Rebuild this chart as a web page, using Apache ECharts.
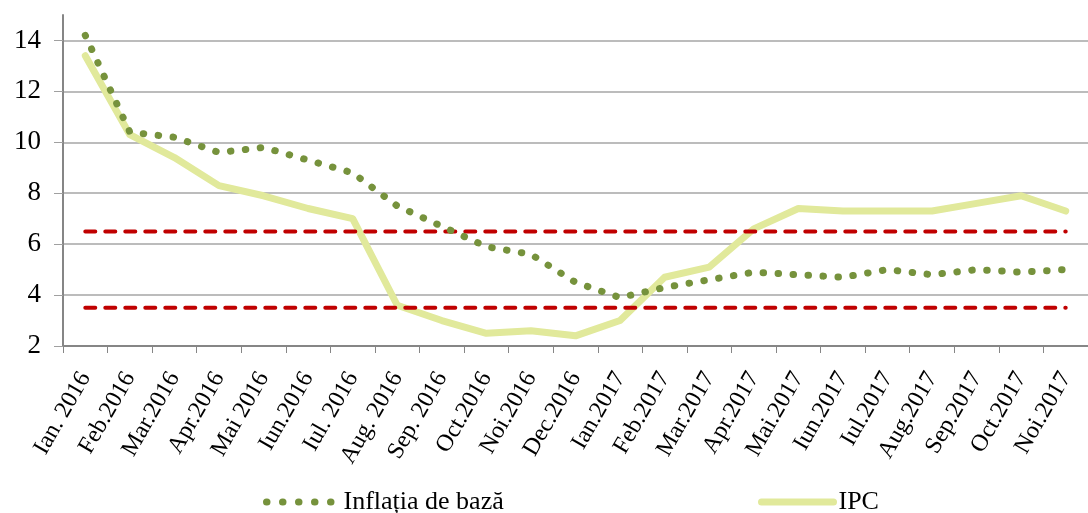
<!DOCTYPE html>
<html>
<head>
<meta charset="utf-8">
<script src="https://cdn.jsdelivr.net/npm/echarts@6/dist/echarts.min.js"></script>
<style>
  html, body { margin: 0; padding: 0; background: #ffffff; }
  #chart { width: 1088px; height: 513px; }
</style>
</head>
<body>
<div id="chart"></div>
<script>
// luni
const months = [
  'Ian. 2016', 'Feb.2016', 'Mar.2016', 'Apr.2016', 'Mai 2016', 'Iun.2016',
  'Iul. 2016', 'Aug. 2016', 'Sep. 2016', 'Oct.2016', 'Noi.2016', 'Dec.2016',
  'Ian.2017', 'Feb.2017', 'Mar.2017', 'Apr.2017', 'Mai.2017', 'Iun.2017',
  'Iul.2017', 'Aug.2017', 'Sep.2017', 'Oct.2017', 'Noi.2017'
]

// inflatia de baza
const coreInflation = [
  14.2, 10.4, 10.2, 9.6, 9.8, 9.3, 8.8, 7.5, 6.7, 5.9, 5.6, 4.5,
  3.9, 4.3, 4.6, 4.9, 4.8, 4.7, 5.0, 4.8, 5.0, 4.9, 5.0
]

// IPC
const cpi = [
  13.4, 10.3, 9.4, 8.3, 7.9, 7.4, 7.0, 3.6, 3.0, 2.5, 2.6, 2.4,
  3.0, 4.7, 5.1, 6.6, 7.4, 7.3, 7.3, 7.3, 7.6, 7.9, 7.3
]

// banda de variatie a tintei
const bandUpper = months.map(() => 6.5)
const bandLower = months.map(() => 3.5)

const yTicks = [2, 4, 6, 8, 10, 12, 14]

const FONT = '"Liberation Serif", "DejaVu Serif", serif'

const chart = echarts.init(document.getElementById('chart'), null, { renderer: 'canvas' })

const legendText = {
  fontFamily: FONT,
  fontSize: 26,
  color: '#000000',
}

const option = {
  backgroundColor: '#ffffff',
  animation: false,
  grid: {
    left: 63,
    top: 15,
    width: 1035,
    height: 331,
  },
  legend: [
    {
      left: 258,
      top: 484,
      itemWidth: 72,
      itemHeight: 14,
      data: ['Inflația de bază'],
      itemStyle: { opacity: 0 },
      lineStyle: { width: 7, type: [0.5, 15.5], cap: 'round', color: '#76923c' },
      textStyle: legendText,
    },
    {
      left: 753,
      top: 484,
      itemWidth: 72,
      itemHeight: 14,
      data: ['IPC'],
      itemStyle: { opacity: 0 },
      lineStyle: { width: 7, cap: 'round', color: '#e1e99b' },
      textStyle: legendText,
    },
  ],
  xAxis: {
    type: 'category',
    data: months,
    boundaryGap: true,
    axisLine: {
      lineStyle: { color: '#868686', width: 2 },
    },
    axisTick: {
      show: true,
      length: 7,
      lineStyle: { color: '#868686', width: 1 },
    },
    axisLabel: {
      interval: 0,
      rotate: 60,
      margin: 28,
      fontFamily: FONT,
      fontSize: 24,
      color: '#000000',
    },
    splitLine: { show: false },
  },
  yAxis: {
    type: 'value',
    min: 2,
    max: 15,
    interval: 2,
    axisLine: {
      show: true,
      lineStyle: { color: '#868686', width: 2 },
    },
    axisTick: {
      show: true,
      length: 9,
      customValues: yTicks,
      lineStyle: { color: '#a0a0a0', width: 1 },
    },
    axisLabel: {
      customValues: yTicks,
      margin: 22,
      fontFamily: FONT,
      fontSize: 27,
      color: '#000000',
    },
    splitLine: {
      show: true,
      customValues: yTicks,
      lineStyle: { color: '#a6a6a6', width: 1.5 },
    },
  },
  series: [
    {
      name: 'upper',
      type: 'line',
      data: bandUpper,
      symbol: 'none',
      z: 3,
      lineStyle: {
        color: '#c00000',
        width: 4,
        type: [10, 10],
        cap: 'round',
      },
    },
    {
      name: 'lower',
      type: 'line',
      data: bandLower,
      symbol: 'none',
      z: 3,
      lineStyle: {
        color: '#c00000',
        width: 4,
        type: [10, 10],
        cap: 'round',
      },
    },
    {
      name: 'Inflația de bază',
      type: 'line',
      data: coreInflation,
      symbol: 'none',
      z: 4,
      itemStyle: { color: '#76923c' },
      lineStyle: {
        color: '#76923c',
        width: 7,
        type: [0.5, 14.5],
        cap: 'round',
      },
    },
    {
      name: 'IPC',
      type: 'line',
      data: cpi,
      symbol: 'none',
      z: 2,
      itemStyle: { color: '#e1e99b' },
      lineStyle: {
        color: '#e1e99b',
        width: 7,
        join: 'round',
        cap: 'round',
      },
    },
  ],
}

chart.setOption(option)
</script>
</body>
</html>
